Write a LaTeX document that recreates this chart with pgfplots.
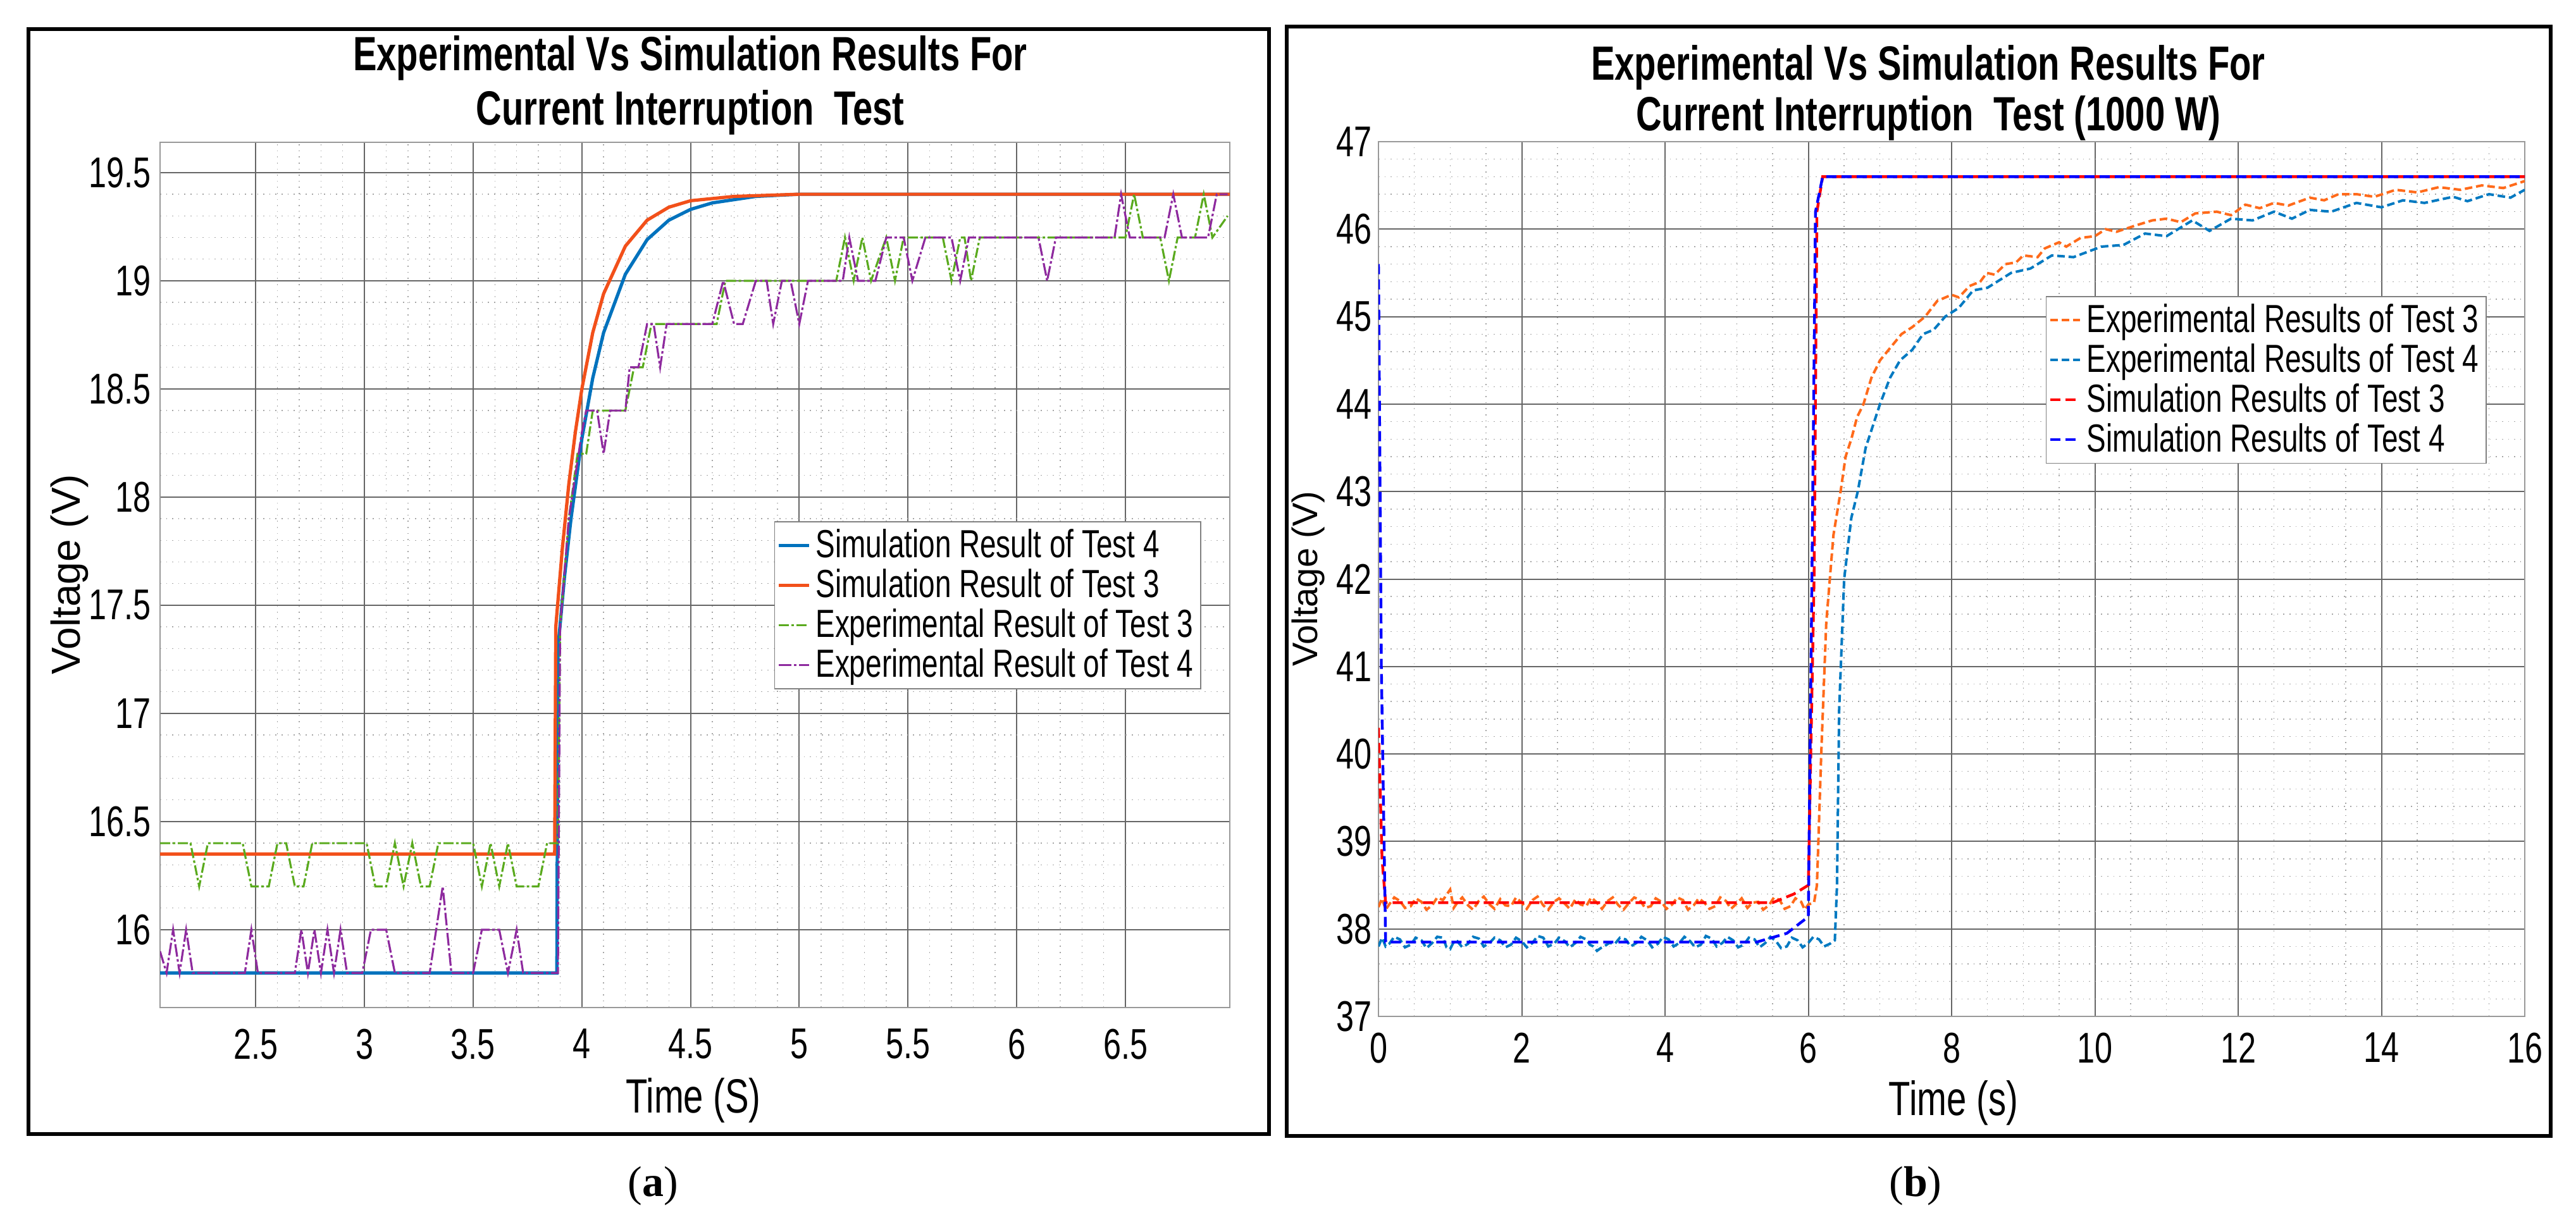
\documentclass[border=0pt]{standalone}
\usepackage{pgfplots}
\pgfplotsset{compat=1.18}
\usepackage{fontspec}
\setmainfont{Liberation Sans}
\newfontfamily\narrow[FakeStretch=0.74]{Liberation Sans}
\newfontfamily\serifb{Liberation Serif}
\definecolor{sblue}{HTML}{0072BD}
\definecolor{sorange}{HTML}{F2501A}
\definecolor{egreen}{HTML}{5AAA1E}
\definecolor{epurple}{HTML}{8E2A9E}
\definecolor{eor}{HTML}{FF6A1A}
\definecolor{ebl}{HTML}{0079C1}
\pgfplotsset{
  common/.style={
    scale only axis, axis line style={black!40},
    grid=both,
    major grid style={black!60, line width=0.5pt},
    minor grid style={black!35, dotted, line width=0.35pt},
    tick style={draw=none},
    ticklabel style={font=\narrow\fontsize{17}{17}\selectfont},
    xticklabel style={yshift=-5pt},
    /pgf/number format/assume math mode=true,
    legend cell align=left,
    legend style={font=\narrow\fontsize{15.5}{18.5}\selectfont, draw=black!50, inner sep=1pt, row sep=-1pt},
    legend image code/.code={\draw[##1] (0cm,0cm) -- (0.42cm,0cm);},
  }
}
\begin{document}
\begin{tikzpicture}
\path (0,0) rectangle (1018pt,-480pt);
% frames
\draw[line width=1.6pt] (11.25pt,-11.5pt) rectangle (501.5pt,-448.25pt);
\draw[line width=1.6pt] (508.5pt,-10.5pt) rectangle (1008pt,-449pt);
% left axis
\begin{axis}[common, at={(63.25pt,-398.25pt)}, anchor=south west,
  width=422.75pt, height=342pt,
  xmin=2.06, xmax=6.98, ymin=15.64, ymax=19.64,
  xtick={2.5,3,...,6.5}, ytick={16,16.5,...,19.5},
  xticklabels={2.5,3,3.5,4,4.5,5,5.5,6,6.5},
  yticklabels={16,16.5,17,17.5,18,18.5,19,19.5},
  minor x tick num=4, minor y tick num=4,
  legend style={at={(0.574,0.562)}, anchor=north west},
]
\addplot[sblue, line width=1.3pt] coordinates {(2.06,15.8)(3.885,15.8)(3.89,17.30)(3.92,17.63)(3.95,17.90)(4.0,18.27)(4.05,18.55)(4.1,18.76)(4.2,19.03)(4.3,19.19)(4.4,19.28)(4.5,19.33)(4.6,19.36)(4.8,19.39)(5.0,19.40)(6.98,19.40)};
\addlegendentry{Simulation Result of Test 4}
\addplot[sorange, line width=1.3pt] coordinates {(2.06,16.35)(3.875,16.35)(3.88,17.40)(3.91,17.76)(3.94,18.06)(3.97,18.30)(4.0,18.50)(4.05,18.76)(4.1,18.94)(4.2,19.16)(4.3,19.28)(4.4,19.34)(4.5,19.37)(4.7,19.39)(5.0,19.40)(6.98,19.40)};
\addlegendentry{Simulation Result of Test 3}
\addplot[egreen, line width=0.8pt, dash pattern=on 4pt off 1pt on 1pt off 1pt] coordinates {
(2.06,16.4)(2.20,16.4)(2.24,16.2)(2.28,16.4)(2.44,16.4)(2.48,16.2)(2.56,16.2)(2.60,16.4)(2.64,16.4)(2.68,16.2)(2.72,16.2)(2.76,16.4)(3.01,16.4)(3.05,16.2)(3.10,16.2)(3.14,16.4)(3.18,16.2)(3.22,16.4)(3.26,16.2)(3.30,16.2)(3.34,16.4)(3.50,16.4)(3.54,16.2)(3.58,16.4)(3.62,16.2)(3.66,16.4)(3.70,16.2)(3.80,16.2)(3.84,16.4)(3.89,16.4)(3.90,17.4)(3.94,17.9)(3.98,18.2)(4.02,18.2)(4.05,18.4)(4.20,18.4)(4.24,18.6)(4.28,18.6)(4.32,18.8)(4.62,18.8)(4.66,19.0)(5.17,19.0)(5.21,19.2)(5.25,19.0)(5.29,19.2)(5.33,19.0)(5.40,19.2)(5.44,19.0)(5.48,19.2)(5.66,19.2)(5.70,19.0)(5.74,19.2)(5.76,19.2)(5.79,19.0)(5.83,19.2)(6.40,19.2)(6.50,19.2)(6.54,19.4)(6.58,19.2)(6.66,19.2)(6.70,19.0)(6.74,19.2)(6.82,19.2)(6.86,19.4)(6.90,19.2)(6.97,19.3)};
\addlegendentry{Experimental Result of Test 3}
\addplot[epurple, line width=0.8pt, dash pattern=on 5pt off 1pt on 1pt off 1pt] coordinates {
(2.06,15.9)(2.09,15.8)(2.12,16.0)(2.15,15.8)(2.18,16.0)(2.21,15.8)(2.45,15.8)(2.48,16.0)(2.51,15.8)(2.68,15.8)(2.71,16.0)(2.74,15.8)(2.77,16.0)(2.80,15.8)(2.83,16.0)(2.86,15.8)(2.89,16.0)(2.92,15.8)(2.99,15.8)(3.03,16.0)(3.10,16.0)(3.14,15.8)(3.30,15.8)(3.36,16.2)(3.40,15.8)(3.50,15.8)(3.54,16.0)(3.62,16.0)(3.66,15.8)(3.70,16.0)(3.73,15.8)(3.89,15.8)(3.90,17.4)(3.94,17.9)(4.0,18.3)(4.02,18.4)(4.07,18.4)(4.10,18.2)(4.13,18.4)(4.20,18.4)(4.22,18.6)(4.26,18.6)(4.30,18.8)(4.33,18.8)(4.36,18.6)(4.39,18.8)(4.60,18.8)(4.65,19.0)(4.70,18.8)(4.74,18.8)(4.80,19.0)(4.85,19.0)(4.88,18.8)(4.92,19.0)(4.96,19.0)(5.00,18.8)(5.04,19.0)(5.20,19.0)(5.23,19.2)(5.27,19.0)(5.35,19.0)(5.40,19.2)(5.48,19.2)(5.52,19.0)(5.58,19.2)(5.70,19.2)(5.74,19.0)(5.78,19.2)(6.10,19.2)(6.14,19.0)(6.18,19.2)(6.45,19.2)(6.48,19.4)(6.52,19.2)(6.68,19.2)(6.72,19.4)(6.76,19.2)(6.88,19.2)(6.92,19.4)(6.97,19.4)};
\addlegendentry{Experimental Result of Test 4}
\end{axis}
% right axis
\begin{axis}[common, at={(544.75pt,-401.75pt)}, anchor=south west,
  width=453pt, height=345.75pt,
  xmin=0, xmax=16, ymin=37, ymax=47,
  xtick={0,2,...,16}, ytick={37,38,...,47},
  minor x tick num=3, minor y tick num=4,
  yticklabel style={xshift=1pt},
  xticklabel style={yshift=2pt},
  legend style={at={(0.582,0.8236)}, anchor=north west},
]
\addplot[eor, line width=1pt, dash pattern=on 3pt off 1.5pt] coordinates {
(0,38.25)(0.05,38.35)(0.1,38.22)(0.15,38.28)(0.22,38.36)(0.3,38.32)(0.37,38.24)(0.45,38.26)(0.52,38.35)(0.6,38.31)(0.67,38.22)(0.75,38.27)(0.82,38.36)(0.9,38.33)(1.0,38.45)(1.05,38.24)(1.1,38.3)(1.17,38.36)(1.25,38.27)(1.32,38.22)(1.4,38.32)(1.47,38.37)(1.55,38.28)(1.62,38.23)(1.7,38.34)(1.77,38.27)(1.85,38.26)(1.92,38.36)(2.0,38.3)(2.07,38.23)(2.15,38.33)(2.22,38.37)(2.3,38.27)(2.37,38.22)(2.45,38.31)(2.52,38.35)(2.6,38.29)(2.67,38.23)(2.75,38.34)(2.82,38.28)(2.9,38.26)(2.97,38.36)(3.05,38.3)(3.12,38.23)(3.2,38.32)(3.27,38.36)(3.35,38.27)(3.42,38.22)(3.5,38.3)(3.57,38.36)(3.65,38.33)(3.72,38.24)(3.8,38.26)(3.87,38.35)(3.95,38.31)(4.02,38.23)(4.1,38.28)(4.17,38.36)(4.25,38.33)(4.32,38.22)(4.4,38.27)(4.47,38.35)(4.55,38.3)(4.62,38.23)(4.7,38.26)(4.77,38.36)(4.85,38.32)(4.92,38.23)(5.0,38.29)(5.07,38.35)(5.15,38.24)(5.22,38.3)(5.3,38.31)(5.37,38.22)(5.45,38.27)(5.52,38.36)(5.6,38.33)(5.67,38.23)(5.75,38.26)(5.82,38.35)(5.9,38.31)(5.95,38.22)(6.0,38.28)(6.08,38.3)(6.12,38.5)(6.18,40.0)(6.25,41.5)(6.35,42.5)(6.45,43.0)(6.52,43.4)(6.6,43.6)(6.68,43.85)(6.77,44.0)(6.88,44.3)(7.0,44.5)(7.15,44.65)(7.3,44.8)(7.45,44.88)(7.63,45.0)(7.8,45.18)(8.0,45.25)(8.1,45.22)(8.25,45.35)(8.4,45.4)(8.49,45.5)(8.6,45.48)(8.75,45.6)(8.9,45.62)(9.0,45.7)(9.2,45.68)(9.3,45.78)(9.5,45.85)(9.6,45.8)(9.8,45.9)(10.0,45.92)(10.15,46.0)(10.3,45.97)(10.6,46.05)(10.8,46.1)(11.0,46.12)(11.2,46.08)(11.4,46.18)(11.7,46.2)(11.9,46.16)(12.1,46.28)(12.3,46.24)(12.5,46.3)(12.7,46.27)(13.0,46.36)(13.2,46.33)(13.4,46.4)(13.65,46.4)(13.9,46.37)(14.2,46.45)(14.5,46.42)(14.8,46.48)(15.1,46.45)(15.4,46.5)(15.7,46.47)(16,46.55)};
\addlegendentry{Experimental Results of Test 3}
\addplot[ebl, line width=1pt, dash pattern=on 3pt off 1.5pt] coordinates {
(0,37.8)(0.05,37.9)(0.1,37.8)(0.15,37.83)(0.22,37.91)(0.3,37.88)(0.37,37.79)(0.45,37.82)(0.52,37.9)(0.6,37.87)(0.67,37.78)(0.75,37.84)(0.82,37.91)(0.9,37.9)(0.95,37.79)(1.0,37.77)(1.05,37.85)(1.1,37.86)(1.17,37.79)(1.25,37.83)(1.32,37.91)(1.4,37.89)(1.47,37.8)(1.55,37.84)(1.62,37.9)(1.7,37.87)(1.77,37.79)(1.85,37.82)(1.92,37.9)(2.0,37.86)(2.07,37.79)(2.15,37.84)(2.22,37.92)(2.3,37.9)(2.37,37.8)(2.45,37.83)(2.52,37.9)(2.6,37.86)(2.67,37.79)(2.75,37.84)(2.82,37.91)(2.9,37.88)(2.95,37.82)(3.0,37.8)(3.05,37.75)(3.1,37.78)(3.15,37.8)(3.22,37.84)(3.3,37.83)(3.37,37.9)(3.45,37.88)(3.52,37.8)(3.6,37.84)(3.67,37.91)(3.75,37.87)(3.82,37.79)(3.9,37.83)(3.97,37.91)(4.05,37.88)(4.12,37.8)(4.2,37.84)(4.27,37.91)(4.35,37.86)(4.42,37.79)(4.5,37.82)(4.57,37.92)(4.65,37.89)(4.72,37.8)(4.8,37.84)(4.87,37.91)(4.95,37.87)(5.02,37.79)(5.1,37.82)(5.17,37.9)(5.25,37.88)(5.32,37.79)(5.4,37.84)(5.47,37.91)(5.55,37.86)(5.62,37.78)(5.7,37.8)(5.77,37.9)(5.85,37.87)(5.92,37.79)(6.0,37.84)(6.07,37.91)(6.15,37.88)(6.22,37.8)(6.3,37.83)(6.37,37.87)(6.4,38.5)(6.43,40.5)(6.5,42.0)(6.6,42.7)(6.69,43.0)(6.8,43.5)(6.9,43.75)(7.0,44.0)(7.14,44.3)(7.28,44.5)(7.45,44.62)(7.6,44.8)(7.75,44.85)(7.91,45.0)(8.1,45.1)(8.3,45.3)(8.5,45.33)(8.83,45.5)(9.1,45.55)(9.4,45.7)(9.7,45.68)(10.09,45.8)(10.4,45.82)(10.7,45.95)(11.0,45.92)(11.36,46.1)(11.6,45.98)(11.9,46.12)(12.2,46.1)(12.5,46.2)(12.75,46.12)(13.0,46.22)(13.3,46.2)(13.65,46.3)(14.0,46.25)(14.3,46.33)(14.6,46.3)(15.0,46.37)(15.2,46.32)(15.5,46.4)(15.8,46.36)(16,46.45)};
\addlegendentry{Experimental Results of Test 4}
\addplot[red, line width=1.1pt, dash pattern=on 4pt off 2pt] coordinates {(0,40.3)(0.05,38.8)(0.1,38.3)(5.5,38.3)(5.8,38.4)(6.0,38.5)(6.08,42.0)(6.12,46.2)(6.2,46.6)(16,46.6)};
\addlegendentry{Simulation Results of Test 3}
\addplot[blue, line width=1.1pt, dash pattern=on 4pt off 2pt] coordinates {(0,45.6)(0.04,41.0)(0.1,37.85)(5.28,37.85)(5.7,37.95)(6.0,38.14)(6.05,42.0)(6.1,46.2)(6.2,46.6)(16,46.6)};
\addlegendentry{Simulation Results of Test 4}
\end{axis}
% titles and labels
\node[font=\narrow\bfseries\fontsize{19}{19}\selectfont] at (272.75pt,-23pt) {Experimental Vs Simulation Results For};
\node[font=\narrow\bfseries\fontsize{19}{19}\selectfont] at (272.75pt,-44.5pt) {Current Interruption\ \ Test};
\node[font=\narrow\bfseries\fontsize{19}{19}\selectfont] at (762pt,-26.75pt) {Experimental Vs Simulation Results For};
\node[font=\narrow\bfseries\fontsize{19}{19}\selectfont] at (762pt,-46.75pt) {Current Interruption\ \ Test (1000 W)};
\node[font=\narrow\fontsize{19}{19}\selectfont] at (274pt,-435pt) {Time (S)};
\node[font=\narrow\fontsize{19}{19}\selectfont] at (772pt,-436pt) {Time (s)};
\node[font=\fontsize{16}{16}\selectfont, rotate=90] at (27.5pt,-227pt) {Voltage (V)};
\node[font=\fontsize{14}{14}\selectfont, rotate=90, inner sep=0pt] at (517pt,-228.75pt) {Voltage (V)};
\node[font=\serifb\fontsize{17}{17}\selectfont] at (258pt,-468.75pt) {(\textbf{a})};
\node[font=\serifb\fontsize{17}{17}\selectfont] at (757pt,-468.75pt) {(\textbf{b})};
\end{tikzpicture}
\end{document}
